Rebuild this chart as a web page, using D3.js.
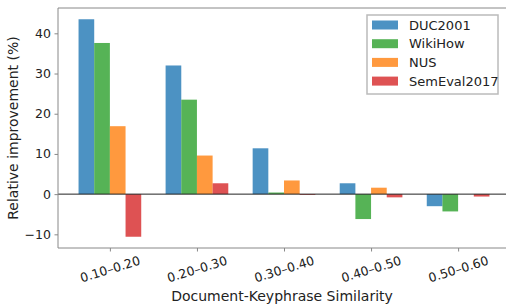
<!DOCTYPE html>
<html><head><meta charset="utf-8">
<script src="https://cdn.jsdelivr.net/npm/d3@7"></script>
<style>body{margin:0;background:#fff}svg{display:block;font-family:"DejaVu Sans",sans-serif}</style>
</head><body><svg id="c" width="506" height="307"></svg>
<script>
const categories = ["0.10–0.20","0.20–0.30","0.30–0.40","0.40–0.50","0.50–0.60"];
const seriesNames = ["DUC2001","WikiHow","NUS","SemEval2017"];
const duc2001 = [43.5, 32.0, 11.4, 2.7, -3.0];
const wikihow = [37.6, 23.5, 0.4, -6.2, -4.3];
const nus = [16.9, 9.6, 3.4, 1.6, 0.0];
const semeval2017 = [-10.6, 2.7, -0.2, -0.8, -0.6];
const yTicks = [-10, 0, 10, 20, 30, 40];
const colors = ["#1f77b4","#2ca02c","#ff7f0e","#d62728"];
const series = [duc2001, wikihow, nus, semeval2017];

const svg = d3.select("#c");
const L = 58, R = 510, T = 8, B = 248;
const x = d3.scaleLinear().domain([-0.596, 4.596]).range([L, R]);
const y = d3.scaleLinear().domain([-13.4, 46.3]).range([B, T]);
const bw = 0.18;

const g = svg.append("g");
series.forEach((vals, si) => {
  g.selectAll(null).data(vals).enter().append("rect")
    .attr("x", (d, i) => x(i + (si - 2) * bw))
    .attr("width", x(bw) - x(0))
    .attr("y", d => y(Math.max(0, d)))
    .attr("height", d => Math.abs(y(d) - y(0)))
    .attr("fill", colors[si]).attr("fill-opacity", 0.8);
});

// zero line
svg.append("line").attr("x1", L).attr("x2", R).attr("y1", y(0)).attr("y2", y(0))
  .attr("stroke", "#222").attr("stroke-width", 1);

// y axis
const ya = svg.append("g").attr("transform", `translate(${L},0)`)
  .call(d3.axisLeft(y).tickValues(yTicks).tickSize(3.5).tickPadding(3.5)
    .tickFormat(d => d < 0 ? "\u2212" + Math.abs(d) : d));
ya.select(".domain").remove();
ya.selectAll("line").attr("stroke", "#888");
ya.selectAll("text").attr("font-size", 12.5).attr("fill", "#222").attr("font-family", "DejaVu Sans");

// x axis
const xa = svg.append("g").attr("transform", `translate(0,${B})`)
  .call(d3.axisBottom(x).tickValues(d3.range(categories.length)).tickSize(3.5)
    .tickFormat(i => categories[i]));
xa.select(".domain").remove();
xa.selectAll("line").attr("stroke", "#888");
xa.selectAll("text").attr("font-size", 12.5).attr("fill", "#222").attr("font-family", "DejaVu Sans")
  .attr("text-anchor", "middle").attr("dy", null).attr("y", 0)
  .attr("transform", "translate(0,22) rotate(-17)").attr("dominant-baseline", "middle");

// spines
svg.append("path").attr("d", `M${L},${B}V${T}H${R}`).attr("fill", "none").attr("stroke", "#888").attr("stroke-width", 1);
svg.append("line").attr("x1", L).attr("x2", R).attr("y1", B).attr("y2", B).attr("stroke", "#888");

// labels
svg.append("text").attr("transform", `translate(18,${(T + B) / 2}) rotate(-90)`)
  .attr("text-anchor", "middle").attr("font-size", 14).attr("fill", "#222").text("Relative improvement (%)");
svg.append("text").attr("x", 282).attr("y", 301).attr("text-anchor", "middle")
  .attr("font-size", 14).attr("fill", "#222").text("Document-Keyphrase Similarity");

// legend
const lg = svg.append("g");
lg.append("rect").attr("x", 367).attr("y", 15).attr("width", 131).attr("height", 79)
  .attr("fill", "#fff").attr("stroke", "#bbb").attr("stroke-width", 1.5);
seriesNames.forEach((n, i) => {
  const cy = 25 + i * 18.7;
  lg.append("rect").attr("x", 372).attr("y", cy - 4.5).attr("width", 26).attr("height", 9)
    .attr("fill", colors[i]).attr("fill-opacity", 0.8);
  lg.append("text").attr("x", 409).attr("y", cy).attr("dominant-baseline", "central")
    .attr("font-size", 13).attr("fill", "#222").text(n);
});
</script></body></html>
